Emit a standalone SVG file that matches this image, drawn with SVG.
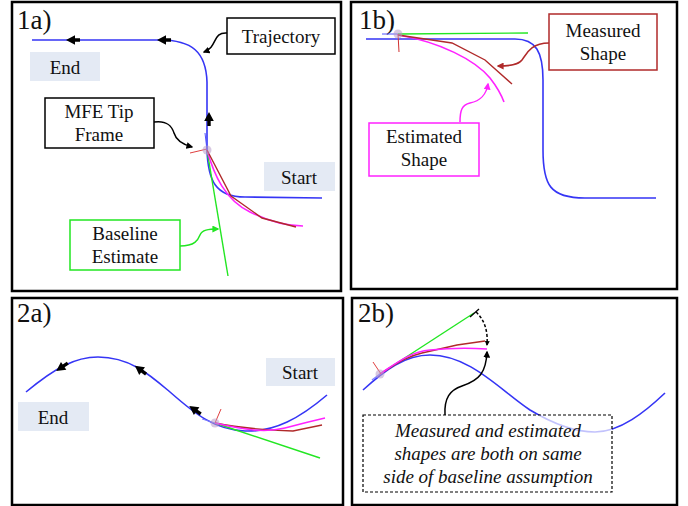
<svg xmlns="http://www.w3.org/2000/svg" width="688" height="506" viewBox="0 0 688 506">
<defs>
<style>
.panel{fill:#fff;stroke:#000;stroke-width:2.5}
.plabel{font-family:"Liberation Serif","Times New Roman","DejaVu Serif",serif;font-size:27px;fill:#111}
.t{font-family:"Liberation Serif","Times New Roman","DejaVu Serif",serif;font-size:19px;fill:#111;text-anchor:middle}
.ti{font-family:"Liberation Serif","Times New Roman","DejaVu Serif",serif;font-size:19px;font-style:italic;fill:#111;text-anchor:middle}
.box{fill:#fff;stroke:#000;stroke-width:1.5}
.tag{fill:#E4EAF4;stroke:none}
.traj{fill:none;stroke:#3535F5;stroke-width:1.6}
.base{fill:none;stroke:#22E622;stroke-width:1.4}
.meas{fill:none;stroke:#B02A2A;stroke-width:1.4}
.est{fill:none;stroke:#FF22FF;stroke-width:1.6}
.conn{fill:none;stroke:#000;stroke-width:1.5}
.tip{fill:#B89AC8;fill-opacity:0.55;stroke:none}
</style>
<marker id="ahB" viewBox="0 0 10 10" refX="8" refY="5" markerWidth="7" markerHeight="7" orient="auto" markerUnits="userSpaceOnUse"><path d="M0,0 L10,5 L0,10 Z" fill="#000"/></marker>
<marker id="ahR" viewBox="0 0 10 10" refX="8" refY="5" markerWidth="7" markerHeight="7" orient="auto" markerUnits="userSpaceOnUse"><path d="M0,0 L10,5 L0,10 Z" fill="#B02A2A"/></marker>
<marker id="ahM" viewBox="0 0 10 10" refX="8" refY="5" markerWidth="7" markerHeight="7" orient="auto" markerUnits="userSpaceOnUse"><path d="M0,0 L10,5 L0,10 Z" fill="#FF22FF"/></marker>
<marker id="ahG" viewBox="0 0 10 10" refX="8" refY="5" markerWidth="7" markerHeight="7" orient="auto" markerUnits="userSpaceOnUse"><path d="M0,0 L10,5 L0,10 Z" fill="#22E622"/></marker>
<marker id="ahS" viewBox="0 0 10 10" refX="8" refY="5" markerWidth="5" markerHeight="5" orient="auto" markerUnits="userSpaceOnUse"><path d="M0,0 L10,5 L0,10 Z" fill="#000"/></marker>
<path id="dir" d="M7,0 L-2,-4.8 L-2,-1.7 L-7,-1.7 L-7,1.7 L-2,1.7 L-2,4.8 Z" fill="#000"/>
</defs>

<rect width="688" height="506" fill="#fff"/>

<!-- Panel 1a -->
<g id="panel-1a">
<rect class="panel" x="12" y="2" width="329" height="289"/>
<text class="plabel" x="17" y="29">1a)</text>
<path class="traj" d="M32,40 L160,40 C192,40 206,52 207,82 L207,150 C208,180 215,197 245,197 L322,198"/>
<use href="#dir" transform="translate(73,40) rotate(180)"/>
<use href="#dir" transform="translate(164,40) rotate(180)"/>
<use href="#dir" transform="translate(209,119) rotate(-90)"/>
<path class="base" d="M207,150 L228,276"/>
<path class="est" d="M207,150 C214,175 225,200 250,212 C268,221 285,226 303,226"/>
<path class="meas" d="M207,150 L231,196 L262,218 L296,227"/>
<line x1="190" y1="153" x2="207" y2="149" stroke="#E04040" stroke-width="1"/>
<line x1="205" y1="133" x2="207" y2="150" stroke="#5050FF" stroke-width="1"/>
<circle class="tip" cx="207" cy="150" r="4.5"/>
</g>
<g id="label-end-1a"><rect class="tag" x="30" y="52" width="70" height="29"/><text class="t" x="65" y="74">End</text></g>
<g id="label-start-1a"><rect class="tag" x="264" y="162" width="71" height="29"/><text class="t" x="299" y="184">Start</text></g>
<g id="node-trajectory"><rect class="box" x="227" y="18" width="108" height="36"/><text class="t" x="281" y="43">Trajectory</text></g>
<g id="node-mfe"><rect class="box" x="45" y="98" width="109" height="50"/><text class="t" x="99" y="118">MFE Tip</text><text class="t" x="99" y="141">Frame</text></g>
<g id="node-baseline"><rect class="box" x="70" y="220" width="110" height="50" style="stroke:#22E622"/><text class="t" x="125" y="240">Baseline</text><text class="t" x="125" y="263">Estimate</text></g>

<!-- Panel 1b -->
<g id="panel-1b">
<rect class="panel" x="351" y="2" width="326" height="287"/>
<text class="plabel" x="359" y="29">1b)</text>
<path class="traj" d="M366,39 L515,39 C536,39 543,52 543,80 L543,150 C543,185 550,198 585,198 L656,198"/>
<line x1="382" y1="34" x2="398" y2="34" stroke="#5050FF" stroke-width="1"/>
<path class="base" d="M398,34 L528,33"/>
<path class="est" d="M398,35 C440,42 475,60 490,78 C497,87 501,94 504,102"/>
<path class="meas" d="M398,35 L452,43 L485,60 L512,84"/>
<line x1="398" y1="34" x2="399" y2="52" stroke="#D03030" stroke-width="1"/>
<circle class="tip" cx="398" cy="34" r="4.5"/>
</g>
<g id="node-measured"><rect class="box" x="549" y="14" width="108" height="56" style="stroke:#B02A2A"/><text class="t" x="603" y="37">Measured</text><text class="t" x="603" y="60">Shape</text></g>
<g id="node-estimated"><rect class="box" x="369" y="123" width="110" height="53" style="stroke:#FF22FF"/><text class="t" x="424" y="143">Estimated</text><text class="t" x="424" y="166">Shape</text></g>

<!-- Panel 2a -->
<g id="panel-2a">
<rect class="panel" x="12" y="298" width="331" height="207"/>
<text class="plabel" x="17" y="322">2a)</text>
<path class="traj" d="M26,392 C55,368 75,357 98,357 C130,357 150,375 170,392 C195,414 215,430 245,431 C275,432 300,418 327,395"/>
<use href="#dir" transform="translate(62,367) rotate(146)"/>
<use href="#dir" transform="translate(140.5,370) rotate(217)"/>
<use href="#dir" transform="translate(195,410) rotate(215)"/>
<path class="base" d="M215,423 L320,458"/>
<path class="meas" d="M215,423 C240,428 262,430 293,431 L322,425"/>
<path class="est" d="M215,423 C245,430 265,433 285,428 C300,424 312,421 325,418"/>
<line x1="215" y1="423" x2="221" y2="409" stroke="#E04040" stroke-width="1"/>
<line x1="202" y1="419" x2="215" y2="423" stroke="#8080FF" stroke-width="1"/>
<circle class="tip" cx="215" cy="423" r="4.5"/>
</g>
<g id="label-start-2a"><rect class="tag" x="266" y="358" width="69" height="28"/><text class="t" x="300" y="379">Start</text></g>
<g id="label-end-2a"><rect class="tag" x="18" y="402" width="71" height="29"/><text class="t" x="53" y="424">End</text></g>

<!-- Panel 2b -->
<g id="panel-2b">
<rect class="panel" x="352" y="298" width="325" height="207"/>
<text class="plabel" x="358" y="322">2b)</text>
<path class="traj" d="M363,390 C385,370 405,355 430,355 C470,355 500,390 530,410 C555,425 575,432 595,432 C620,432 645,412 665,393"/>
<path class="base" d="M380,374 L474,313"/>
<line x1="470" y1="317" x2="479" y2="309" stroke="#000" stroke-width="1.4"/>
<path class="meas" d="M380,374 C395,365 405,357 422,353 L457,345 L485,341"/>
<path class="est" d="M380,374 C398,362 410,352 430,350 C450,348 470,348 487,349"/>
<line x1="373" y1="362" x2="381" y2="374" stroke="#E04040" stroke-width="1"/>
<line x1="372" y1="380" x2="380" y2="374" stroke="#8080FF" stroke-width="1.5"/>
<circle class="tip" cx="380" cy="374" r="4.5"/>
</g>
<g id="node-note"><rect x="363" y="415" width="249" height="77" fill="#fff" fill-opacity="0.7" stroke="#000" stroke-width="1.2" stroke-dasharray="3,2"/><text class="ti" x="488" y="437">Measured and estimated</text><text class="ti" x="488" y="460">shapes are both on same</text><text class="ti" x="488" y="483">side of baseline assumption</text></g>

<!-- Connectors -->
<g id="connectors">
<path class="conn" d="M227,33 C212,32 218,47 204,52" marker-end="url(#ahB)"/>
<path class="conn" d="M154,122 C168,120 172,127 174,133 C176,140 181,144 192,147" marker-end="url(#ahB)"/>
<path class="conn" d="M180,246 C195,246 198,240 200,235 C202,230 208,229 218,229" style="stroke:#22E622" marker-end="url(#ahG)"/>
<path class="conn" d="M549,43 C530,43 526,55 522,60 C518,65 510,66 498,66" style="stroke:#B02A2A" marker-end="url(#ahR)"/>
<path class="conn" d="M460,122 C460,110 462,105 470,103 C480,101 486,96 488,84" style="stroke:#FF22FF" marker-end="url(#ahM)"/>
<path class="conn" d="M445,415 C444,398 450,390 462,386 C480,380 486,372 487,352" marker-end="url(#ahB)"/>
<path class="conn" d="M476,312 C485,320 488,332 487,345" stroke-width="1.2" stroke-dasharray="3,2" marker-end="url(#ahS)"/>
</g>
</svg>
